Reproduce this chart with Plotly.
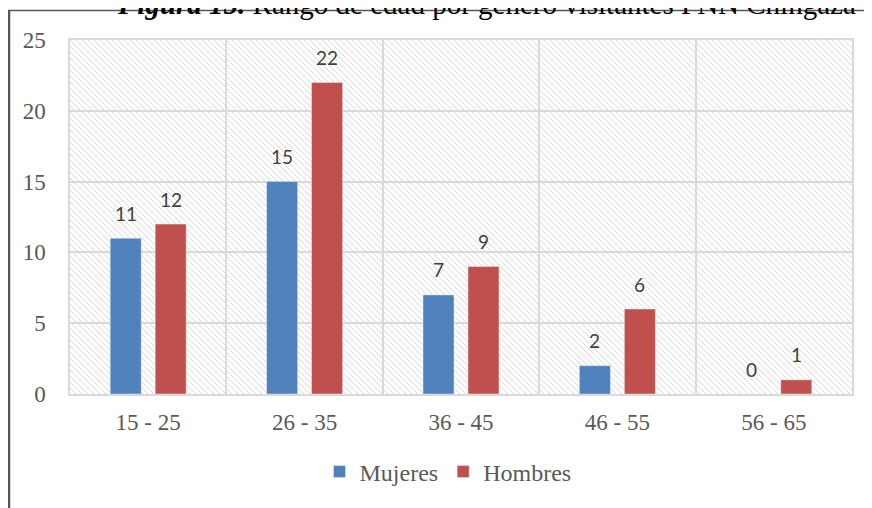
import base64
import plotly.graph_objects as go

categories = ["15 - 25", "26 - 35", "36 - 45", "46 - 55", "56 - 65"]
mujeres = [11, 15, 7, 2, 0]
hombres = [12, 22, 9, 6, 1]
series_names = ["Mujeres", "Hombres"]
y_ticks = [0, 5, 10, 15, 20, 25]

OFF = 8  # page body margin in the browser
W, H = 872, 508
# desired plot area on screen: x 70..852, y 40..394
ML, MT = 70 - OFF, 40 - OFF
MR = W - (852 - OFF)
MB = H - (394 - OFF)
PW, PH = W - ML - MR, H - MT - MB
BARGAP, BARGROUPGAP = 0.425, 0.31
slot = PW / len(categories) * (1 - BARGAP) / 2

# hatch background for plot area
step = 6
lines = []
for k in range(-PH, PW + PH, step):
    lines.append(f'<line x1="{k}" y1="0" x2="{k + PH}" y2="{PH}"/>')
svg = (f'<svg xmlns="http://www.w3.org/2000/svg" width="{PW}" height="{PH}" viewBox="0 0 {PW} {PH}">'
       f'<rect width="{PW}" height="{PH}" fill="white"/>'
       f'<g stroke="#dadada" stroke-width="1">' + "".join(lines) + '</g></svg>')
src = "data:image/svg+xml;base64," + base64.b64encode(svg.encode()).decode()

fig = go.Figure()
fig.add_bar(x=categories, y=mujeres, name=series_names[0], marker_color="#4F81BD")
fig.add_bar(x=categories, y=hombres, name=series_names[1], marker_color="#C0504D")

annotations = []
for vals, sh in ((mujeres, -slot / 2), (hombres, slot / 2)):
    for c, v in zip(categories, vals):
        annotations.append(dict(x=c, y=v, xref="x", yref="y", text=str(v), showarrow=False,
                                xshift=sh, yshift=25, yanchor="middle",
                                font=dict(family="Lato", size=19, color="#404040")))

def sx(px):
    return (px - OFF - ML) / PW

def sy(py):
    return (H - MB - (py - OFF)) / PH

annotations.append(dict(
    xref="paper", yref="paper", x=sx(486), y=sy(22), xanchor="center", yanchor="bottom",
    showarrow=False,
    text="<b><i>Figura 15.</i></b> Rango de edad por género visitantes PNN Chingaza",
    font=dict(family="Liberation Serif", size=29, color="#000000")))

shapes = [
    dict(type="line", xref="paper", yref="paper", x0=sx(9), x1=sx(9),
         y0=sy(10), y1=sy(540), line=dict(color="#555555", width=2.5)),
    dict(type="line", xref="paper", yref="paper", x0=sx(8), x1=sx(900),
         y0=sy(10.5), y1=sy(10.5), line=dict(color="#555555", width=1.5)),
]

fig.update_layout(
    width=W, height=H,
    margin=dict(l=ML, r=MR, t=MT, b=MB),
    paper_bgcolor="white", plot_bgcolor="rgba(0,0,0,0)",
    barmode="group", bargap=BARGAP, bargroupgap=BARGROUPGAP,
    images=[dict(source=src, xref="paper", yref="paper", x=0, y=1, sizex=1, sizey=1,
                 sizing="stretch", xanchor="left", yanchor="top", layer="below")],
    annotations=annotations, shapes=shapes,
    legend=dict(orientation="h", x=sx(448), xanchor="center", y=sy(472), yanchor="middle",
                font=dict(family="Liberation Serif", size=24, color="#595959"),
                bgcolor="rgba(0,0,0,0)"),
    showlegend=True,
)
fig.update_xaxes(
    tickson="boundaries", showgrid=True, gridcolor="#d9d9d9", gridwidth=1.5,
    showline=True, linecolor="#d9d9d9", linewidth=2, mirror=True, ticks="",
    ticklabelstandoff=6,
    tickfont=dict(family="Liberation Serif", size=23, color="#595959"),
)
fig.update_yaxes(
    range=[0, 25], tickvals=y_ticks, showgrid=True, gridcolor="#d9d9d9", gridwidth=1.5,
    zeroline=False, showline=True, linecolor="#d9d9d9", linewidth=1.5, mirror=True, ticks="",
    ticklabelstandoff=18,
    tickfont=dict(family="Liberation Serif", size=23, color="#595959"),
)

fig.write_html("out.html")
